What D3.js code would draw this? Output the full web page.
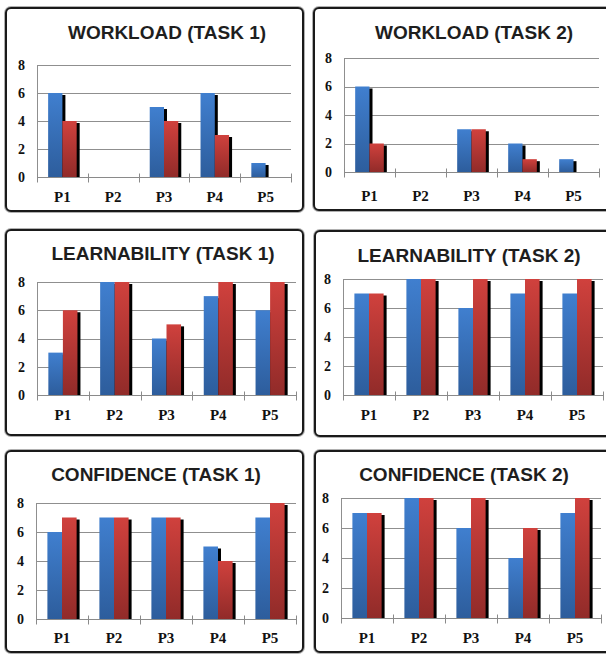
<!DOCTYPE html>
<html>
<head>
<meta charset="utf-8">
<script src="https://cdn.jsdelivr.net/npm/d3@7"></script>
<style>
  html, body { margin: 0; padding: 0; background: #fff; overflow: hidden; }
  svg { display: block; }
</style>
</head>
<body>
<svg id="chart" width="606" height="654"></svg>
<script>
// Participants along the x axis and the shared value ticks
const categories = ["P1", "P2", "P3", "P4", "P5"];
const yTicks = [0, 2, 4, 6, 8];
const seriesNames = ["blue", "red"];

// Panel titles
const titles = [
  "WORKLOAD (TASK 1)", "WORKLOAD (TASK 2)",
  "LEARNABILITY (TASK 1)", "LEARNABILITY (TASK 2)",
  "CONFIDENCE (TASK 1)", "CONFIDENCE (TASK 2)"
];

// Scores per participant: blue series, red series
const workload1Blue = [6, 0, 5, 6, 1];
const workload1Red  = [4, 0, 4, 3, 0];
const workload2Blue = [6, 0, 3, 2, 0.9];
const workload2Red  = [2, 0, 3, 0.9, 0];
const learn1Blue    = [3, 8, 4, 7, 6];
const learn1Red     = [6, 8, 5, 8, 8];
const learn2Blue    = [7, 8, 6, 7, 7];
const learn2Red     = [7, 8, 8, 8, 8];
const conf1Blue     = [6, 7, 7, 5, 7];
const conf1Red      = [7, 7, 7, 4, 8];
const conf2Blue     = [7, 8, 6, 4, 7];
const conf2Red      = [7, 8, 8, 6, 8];

const panelData = [
  [workload1Blue, workload1Red], [workload2Blue, workload2Red],
  [learn1Blue, learn1Red], [learn2Blue, learn2Red],
  [conf1Blue, conf1Red], [conf2Blue, conf2Red]
];

// Frame and plot geometry of each panel
const layout = [
  { box: [6, 8, 297, 203],   plot: [37, 291, 65, 177],  titleX: 167, titleY: 32,  labelY: 197 },
  { box: [314, 8, 310, 202], plot: [344, 599, 58, 172], titleX: 474, titleY: 32,  labelY: 196 },
  { box: [6, 230, 297, 205], plot: [37, 296, 282, 395], titleX: 163, titleY: 253, labelY: 415 },
  { box: [315, 231, 310, 205], plot: [343, 603, 279, 395], titleX: 469, titleY: 255, labelY: 415 },
  { box: [6, 451, 297, 201], plot: [36, 296, 503, 619], titleX: 156, titleY: 474, labelY: 638 },
  { box: [315, 451, 310, 201], plot: [341, 601, 498, 618], titleX: 464, titleY: 474, labelY: 638 }
];

const serifFont = "'Times New Roman', 'Liberation Serif', 'DejaVu Serif', serif";
const sansFont = "'Liberation Sans', Arial, sans-serif";

const svg = d3.select("#chart");
const defs = svg.append("defs");

// Vertical shading on the bars
const gradients = {
  blue: ["#407fcf", "#2d5d9c"],
  red:  ["#d0413d", "#912b29"]
};
Object.entries(gradients).forEach(([name, [top, bottom]]) => {
  const g = defs.append("linearGradient")
    .attr("id", "grad-" + name)
    .attr("x1", 0).attr("y1", 0).attr("x2", 0).attr("y2", 1);
  g.append("stop").attr("offset", "0%").attr("stop-color", top);
  g.append("stop").attr("offset", "100%").attr("stop-color", bottom);
});

const shadowDx = 3, shadowDy = 2;

panelData.forEach((series, i) => {
  const L = layout[i];
  const [bx, by, bw, bh] = L.box;
  const [px0, px1, pyTop, pyZero] = L.plot;
  const g = svg.append("g");

  // Rounded frame around the panel
  g.append("rect")
    .attr("x", bx).attr("y", by).attr("width", bw).attr("height", bh)
    .attr("rx", 5).attr("fill", "#fff")
    .attr("stroke", "#b0b0b0").attr("stroke-width", 4);
  g.append("rect")
    .attr("x", bx).attr("y", by).attr("width", bw).attr("height", bh)
    .attr("rx", 5).attr("fill", "#fff")
    .attr("stroke", "#1a1a1a").attr("stroke-width", 2);

  const x0 = d3.scaleBand().domain(categories).range([px0, px1]).paddingInner(0).paddingOuter(0);
  const x1 = d3.scaleBand().domain(seriesNames).range([0, x0.bandwidth()])
    .paddingInner(0).paddingOuter(0.78);
  const y = d3.scaleLinear().domain([0, 8]).range([pyZero, pyTop]);

  // Horizontal gridlines
  g.append("g").selectAll("line").data(yTicks.filter(t => t > 0)).join("line")
    .attr("x1", px0).attr("x2", px1)
    .attr("y1", d => Math.round(y(d)) + 0.5).attr("y2", d => Math.round(y(d)) + 0.5)
    .attr("stroke", "#8f8f8f").attr("stroke-width", 1);

  // Value axis: vertical line plus bold labels
  g.append("line")
    .attr("x1", px0 + 0.5).attr("x2", px0 + 0.5)
    .attr("y1", y(8)).attr("y2", y(0))
    .attr("stroke", "#8f8f8f");
  g.append("g").selectAll("text").data(yTicks).join("text")
    .style("font-family", serifFont).style("font-weight", "bold").style("font-size", "14px")
    .attr("x", px0 - 12).attr("y", d => y(d))
    .attr("dy", "0.35em").attr("text-anchor", "end")
    .attr("fill", "#111")
    .text(d => d);

  // Bars with a dark drop shadow on the right
  series.forEach((values, s) => {
    const name = seriesNames[s];
    const bars = g.append("g");
    categories.forEach((c, k) => {
      const v = values[k];
      if (!v) return;
      const bxp = x0(c) + x1(name);
      const top = y(v);
      const h = y(0) - top;
      if (h - shadowDy > 0) {
        bars.append("rect")
          .attr("x", bxp + shadowDx).attr("y", top + shadowDy)
          .attr("width", x1.bandwidth()).attr("height", h - shadowDy)
          .attr("fill", "#000");
      }
      bars.append("rect")
        .attr("x", bxp).attr("y", top)
        .attr("width", x1.bandwidth()).attr("height", h)
        .attr("fill", "url(#grad-" + name + ")");
    });
  });

  // Category axis with tick marks at band boundaries
  const xAxis = d3.axisBottom(x0).tickSize(0).tickFormat("");
  const ax = g.append("g").attr("transform", `translate(0,${Math.round(y(0)) + 0.5})`).call(xAxis);
  ax.select(".domain").attr("stroke", "#8a8a8a").attr("d", `M${px0},0H${px1}`);
  const bounds = [px0].concat(categories.map(c => x0(c) + x0.bandwidth()));
  ax.selectAll(".bnd").data(bounds).join("line").attr("class", "bnd")
    .attr("x1", d => Math.round(d) + 0.5).attr("x2", d => Math.round(d) + 0.5)
    .attr("y1", -4).attr("y2", 5)
    .attr("stroke", "#8a8a8a");

  g.append("g").selectAll("text").data(categories).join("text")
    .style("font-family", serifFont).style("font-weight", "bold").style("font-size", "15px")
    .attr("x", d => x0(d) + x0.bandwidth() / 2).attr("y", L.labelY)
    .attr("dy", "0.35em").attr("text-anchor", "middle")
    .attr("fill", "#111")
    .text(d => d);

  // Title
  g.append("text")
    .style("font-family", sansFont).style("font-weight", "bold").style("font-size", "19px")
    .attr("x", L.titleX).attr("y", L.titleY).attr("dy", "0.35em")
    .attr("text-anchor", "middle")
    .attr("fill", "#1e1e1e")
    .text(titles[i]);
});
</script>
</body>
</html>
